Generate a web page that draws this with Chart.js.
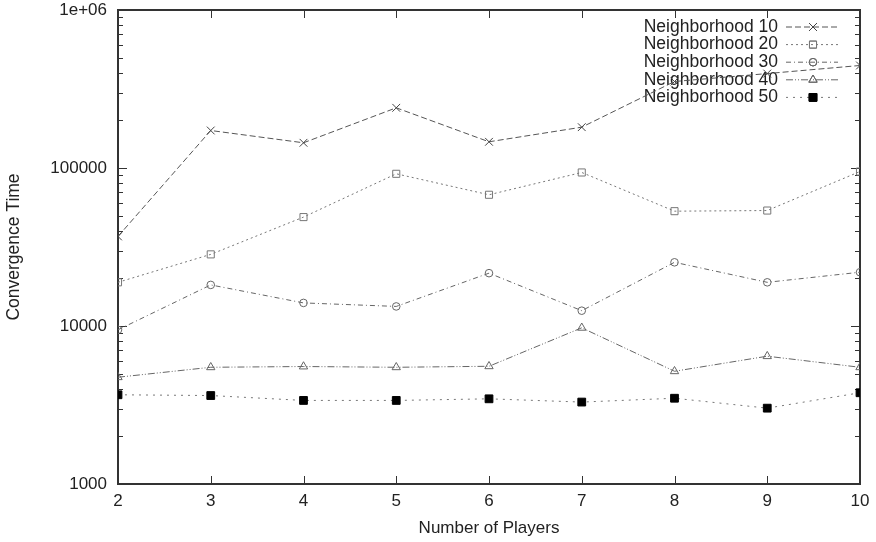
<!DOCTYPE html>
<html>
<head>
<meta charset="utf-8">
<script src="https://cdn.jsdelivr.net/npm/chart.js@4.4.1/dist/chart.umd.min.js"></script>
<style>
  html, body { margin: 0; padding: 0; background: #fff; }
  #wrap { width: 876px; height: 542px; position: relative; }
</style>
</head>
<body>
<div id="wrap"><canvas id="c" width="876" height="542"></canvas></div>
<script>
// ---- data ----
const players = [2, 3, 4, 5, 6, 7, 8, 9, 10];
const seriesNames = ['Neighborhood 10', 'Neighborhood 20', 'Neighborhood 30', 'Neighborhood 40', 'Neighborhood 50'];
const n10 = [36900, 172700, 144400, 240400, 146500, 181300, 352700, 396000, 445500];
const n20 = [18900, 28400, 48900, 91900, 67700, 93700, 53300, 53800, 95000];
const n30 = [9460, 18200, 14000, 13300, 21600, 12500, 25300, 18900, 21900];
const n40 = [4740, 5480, 5540, 5480, 5560, 9740, 5170, 6440, 5480];
const n50 = [3670, 3630, 3380, 3380, 3460, 3300, 3490, 3020, 3780];
const yTickValues = [1000, 10000, 100000, 1000000];
const yTickLabels = ['1000', '10000', '100000', '1e+06'];
const xTickValues = [2, 3, 4, 5, 6, 7, 8, 9, 10];
const xTitle = 'Number of Players';
const yTitle = 'Convergence Time';

const FONT = 'Liberation Sans, Arial, Helvetica, sans-serif';
const allSeries = [n10, n20, n30, n40, n50];
const styles = [
  { line: '#555', point: '#444', ps: 'crossRot', r: 5.5, dash: [6, 3], fill: false },
  { line: '#777', point: '#777', ps: 'rect', r: 5, dash: [2, 3], fill: false },
  { line: '#666', point: '#666', ps: 'circle', r: 3.8, dash: [5, 3, 1, 3], fill: false },
  { line: '#666', point: '#666', ps: 'triangle', r: 4.8, dash: [7, 2, 1, 2, 1, 2], fill: false },
  { line: '#777', point: '#000', ps: 'rect', r: 5.5, dash: [2, 5], fill: true }
];

const datasets = allSeries.map((vals, i) => ({
  label: seriesNames[i],
  data: players.map((p, j) => ({ x: p, y: vals[j] })),
  borderColor: styles[i].line,
  borderWidth: 1,
  borderDash: styles[i].dash,
  pointStyle: styles[i].ps,
  pointRadius: styles[i].r,
  pointBorderColor: styles[i].point,
  pointBorderWidth: 1,
  pointBackgroundColor: styles[i].fill ? '#000' : 'rgba(0,0,0,0)',
  fill: false,
  tension: 0
}));

const framePlugin = {
  id: 'frameTicks',
  beforeDatasetsDraw(chart) {
    const ctx = chart.ctx;
    const a = chart.chartArea;
    const xs = chart.scales.x, ys = chart.scales.y;
    ctx.save();
    // legend (gnuplot style: text then sample)
    const textRight = 778, s0 = 786, s1 = 838, mx = 813;
    const rowY0 = 27, rowDy = 17.6;
    ctx.font = '17.5px ' + FONT;
    ctx.textAlign = 'right';
    ctx.textBaseline = 'middle';
    chart.data.datasets.forEach((ds, i) => {
      const y = rowY0 + i * rowDy;
      ctx.fillStyle = '#222';
      ctx.fillText(ds.label, textRight, y);
      ctx.strokeStyle = ds.borderColor;
      ctx.lineWidth = 1;
      ctx.setLineDash(ds.borderDash);
      ctx.beginPath(); ctx.moveTo(s0, y); ctx.lineTo(s1, y); ctx.stroke();
      ctx.setLineDash([]);
      ctx.strokeStyle = ds.pointBorderColor;
      ctx.fillStyle = ds.pointBackgroundColor;
      Chart.helpers.drawPoint(ctx, { pointStyle: ds.pointStyle, radius: ds.pointRadius, borderWidth: 1, rotation: 0 }, mx, y);
      if (ds.pointBackgroundColor === '#000') ctx.fill();
      ctx.stroke();
    });
    // ticks (inward, mirrored)
    ctx.strokeStyle = '#333';
    ctx.lineWidth = 1;
    ctx.setLineDash([]);
    ctx.beginPath();
    xTickValues.forEach(v => {
      const px = Math.round(xs.getPixelForValue(v)) + 0.5;
      ctx.moveTo(px, a.bottom); ctx.lineTo(px, a.bottom - 8);
      ctx.moveTo(px, a.top); ctx.lineTo(px, a.top + 8);
    });
    for (let d = 1000; d <= 1000000; d *= 10) {
      const py = Math.round(ys.getPixelForValue(d)) + 0.5;
      ctx.moveTo(a.left, py); ctx.lineTo(a.left + 9, py);
      ctx.moveTo(a.right, py); ctx.lineTo(a.right - 9, py);
      if (d < 1000000) {
        for (let m = 2; m <= 9; m++) {
          const pm = Math.round(ys.getPixelForValue(d * m)) + 0.5;
          ctx.moveTo(a.left, pm); ctx.lineTo(a.left + 5, pm);
          ctx.moveTo(a.right, pm); ctx.lineTo(a.right - 5, pm);
        }
      }
    }
    ctx.stroke();
    // frame
    ctx.strokeStyle = '#333';
    ctx.lineWidth = 2;
    ctx.strokeRect(a.left, a.top, a.right - a.left, a.bottom - a.top);
    ctx.restore();
  }
};

new Chart(document.getElementById('c'), {
  type: 'line',
  data: { datasets },
  options: {
    responsive: false,
    animation: false,
    layout: { padding: { top: 10, right: 16, bottom: 3, left: 0 } },
    plugins: { legend: { display: false }, tooltip: { enabled: false } },
    scales: {
      x: {
        type: 'linear',
        min: 2, max: 10,
        afterBuildTicks(s) { s.ticks = xTickValues.map(v => ({ value: v })); },
        afterFit(s) { s.height = 55; s.paddingLeft = 0; s.paddingRight = 0; },
        grid: { display: false, drawTicks: false },
        border: { display: false },
        ticks: { color: '#222', font: { size: 17, family: FONT }, padding: 7, maxRotation: 0, autoSkip: false,
                 callback: v => String(v) },
        title: { display: true, text: xTitle, color: '#222', font: { size: 17, family: FONT }, padding: { top: 4, bottom: 0 } }
      },
      y: {
        type: 'logarithmic',
        min: 1000, max: 1000000,
        afterBuildTicks(s) { s.ticks = yTickValues.map(v => ({ value: v, major: true })); },
        afterFit(s) { s.width = 118; s.paddingTop = 0; s.paddingBottom = 0; },
        grid: { display: false, drawTicks: false },
        border: { display: false },
        ticks: { color: '#222', font: { size: 17, family: FONT }, padding: 11, autoSkip: false,
                 callback: v => { const k = yTickValues.indexOf(v); return k >= 0 ? yTickLabels[k] : ''; } },
        title: { display: true, text: yTitle, color: '#222', font: { size: 17.5, family: FONT }, padding: { top: 4, bottom: 0 } }
      }
    }
  },
  plugins: [framePlugin]
});
</script>
</body>
</html>
